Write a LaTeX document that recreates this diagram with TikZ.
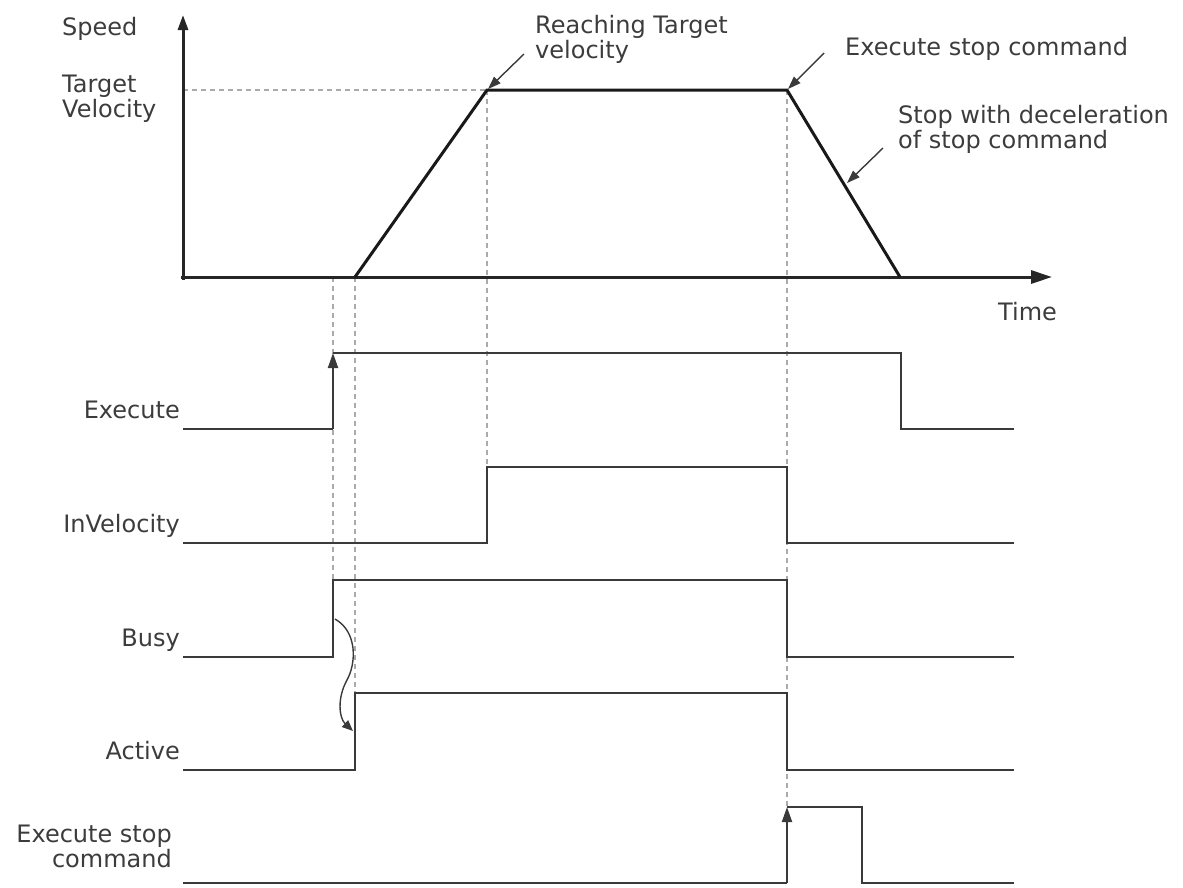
\documentclass[tikz,border=0pt]{standalone}
\usepackage{fontspec}
\setmainfont{DejaVu Sans}
\usetikzlibrary{arrows.meta}

\definecolor{txtgray}{HTML}{3C3C3C}
\definecolor{wavegray}{HTML}{3A3A3A}
\definecolor{guidegray}{HTML}{ABABAB}

\begin{document}
\begin{tikzpicture}[x=1pt, y=-1pt,
  every node/.style={font=\fontsize{24}{25}\selectfont, text=txtgray, inner sep=0pt},
  axis/.style={line width=3pt, black!85},
  profile/.style={line width=3pt, black!90},
  wave/.style={line width=2pt, wavegray},
  guide/.style={guidegray, line width=1.5pt, dash pattern=on 5pt off 4pt},
  callout/.style={line width=1.4pt, wavegray, -{Triangle[length=13pt,width=9pt]}},
  edge/.style={wave, -{Triangle[length=15pt,width=10pt]}},
  siglabel/.style={anchor=base east}]
\useasboundingbox (0,0) rectangle (1183,887);

% Guide lines (under everything else)
\draw[guide] (183,90) -- (487,90);
\draw[guide] (333,277) -- (333,580);
\draw[guide] (355,277) -- (355,693);
\draw[guide] (487,90) -- (487,467);
\draw[guide] (787,90) -- (787,807);

% Speed profile
\draw[axis, -{Triangle[length=15pt,width=10pt]}] (183,280) -- (183,15);
\draw[axis, -{Triangle[length=21pt,width=13pt]}] (181,277) -- (1052,277);
\draw[profile] (355,277) -- (487,90) -- (787,90) -- (900,277);

\node[anchor=base west] (speed) at (62,35) {Speed};
\node[anchor=north west, align=left] (target) at (62,75) {Target\\Velocity};
\node[anchor=north west] (time) at (998,302) {Time};

% Callouts on the profile
\coordinate (reach) at (488,89);
\coordinate (stopcmd) at (788,89);
\coordinate (decel) at (847,183);
\node[anchor=north west, align=left] (reachtxt) at (535,15) {Reaching Target\\velocity};
\node[anchor=north west] (stoptxt) at (845,37) {Execute stop command};
\node[anchor=north west, align=left] (deceltxt) at (898,105) {Stop with deceleration\\of stop command};
\coordinate (reachfrom) at (524,54);
\coordinate (stopfrom) at (824,53);
\coordinate (decelfrom) at (883,148);
\draw[callout] (reachfrom) -- (reach);
\draw[callout] (stopfrom) -- (stopcmd);
\draw[callout] (decelfrom) -- (decel);

% Signals
\draw[wave] (183,429) -- (333,429);
\draw[edge] (333,429) -- (333,353);
\draw[wave] (333,353) -- (901,353) -- (901,429) -- (1014,429);

\draw[wave] (183,543) -- (487,543) -- (487,467) -- (787,467) -- (787,543) -- (1014,543);

\draw[wave] (183,657) -- (333,657) -- (333,580) -- (787,580) -- (787,657) -- (1014,657);

\draw[wave] (183,770) -- (355,770) -- (355,693) -- (787,693) -- (787,770) -- (1014,770);

\draw[wave] (183,883) -- (787,883);
\draw[edge] (787,883) -- (787,807);
\draw[wave] (787,807) -- (862,807) -- (862,883) -- (1014,883);

% Busy -> Active
\coordinate (busyup) at (335,619);
\coordinate (activeup) at (353,731);
\draw[line width=1.4pt, wavegray, -{Triangle[length=11pt,width=9pt]}]
  (busyup) .. controls (358,632) and (356,664) .. (347,680)
  .. controls (337,698) and (339,718) .. (activeup);

\node[siglabel] (execute) at (180,418) {Execute};
\node[siglabel] (invelocity) at (180,532) {InVelocity};
\node[siglabel] (busy) at (180,646) {Busy};
\node[siglabel] (active) at (180,759) {Active};
\node[anchor=south east, align=right] (stopsig) at (172,868) {Execute stop\\command};
\end{tikzpicture}
\end{document}
